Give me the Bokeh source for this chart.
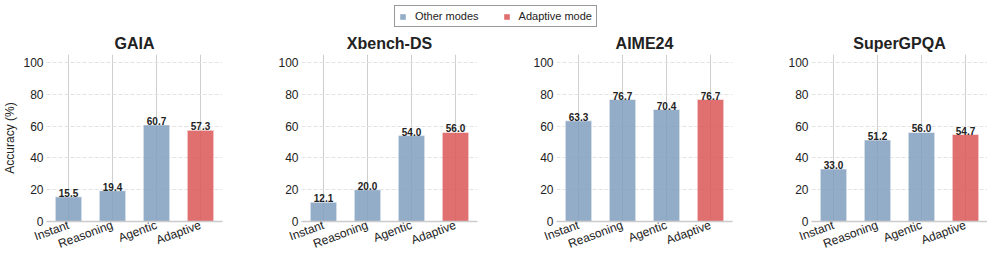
from bokeh.plotting import figure
from bokeh.models import Range1d, FixedTicker, ColumnDataSource, Legend, LegendItem
from bokeh.layouts import column, row
from bokeh.core.properties import value
from bokeh.embed import file_html
from bokeh.resources import INLINE

modes = ["Instant", "Reasoning", "Agentic", "Adaptive"]
benchmarks = ["GAIA", "Xbench-DS", "AIME24", "SuperGPQA"]
gaia = [15.5, 19.4, 60.7, 57.3]
xbench = [12.1, 20.0, 54.0, 56.0]
aime24 = [63.3, 76.7, 70.4, 76.7]
supergpqa = [33.0, 51.2, 56.0, 54.7]
y_ticks = [0, 20, 40, 60, 80, 100]
legend_labels = ["Other modes", "Adaptive mode"]

FONT = "Liberation Sans"
BLUE = "#809FBE"
RED = "#DA5656"
ALPHA = 0.85
colors = [BLUE, BLUE, BLUE, RED]

# legend strip
lf = figure(width=980, height=30, x_range=Range1d(0, 1), y_range=Range1d(0, 1),
            x_axis_location=None, y_axis_location=None, min_border=0,
            output_backend="svg", toolbar_location=None)
lf.outline_line_color = None
lf.grid.visible = False
r1 = lf.rect(x=[-5], y=[-5], width=0.1, height=0.1, fill_color=BLUE, fill_alpha=ALPHA, line_color=None)
r2 = lf.rect(x=[-5], y=[-5], width=0.1, height=0.1, fill_color=RED, fill_alpha=ALPHA, line_color=None)
leg = Legend(items=[LegendItem(label=legend_labels[0], renderers=[r1]),
                    LegendItem(label=legend_labels[1], renderers=[r2])],
             orientation="horizontal", location=(394, 3),
             border_line_color="#333333", border_line_width=1,
             label_text_font_size="11px", label_text_font=FONT, label_text_color="#222222",
             padding=4, spacing=24, margin=0, label_standoff=9,
             glyph_width=7, glyph_height=7, label_height=11,
             background_fill_alpha=1.0)
lf.add_layout(leg, "center")

panels = []
all_vals = [gaia, xbench, aime24, supergpqa]
for i, (name, vals) in enumerate(zip(benchmarks, all_vals)):
    first = i == 0
    last = i == 3
    p = figure(x_range=modes, y_range=Range1d(0, 105), frame_width=176, frame_height=167,
               min_border_left=38 if first else 48, min_border_right=0 if last else 31,
               min_border_top=16, min_border_bottom=42, title=name,
               output_backend="svg", toolbar_location=None)
    p.outline_line_color = None
    p.title.text_font = FONT
    p.title.text_font_size = "16px"
    p.title.text_font_style = "bold"
    p.title.text_color = "#222222"
    p.title.align = "center"
    p.title.standoff = 5

    src = ColumnDataSource(dict(mode=modes, val=vals, color=colors,
                                label=["%.1f" % v for v in vals]))
    p.vbar(x="mode", top="val", width=0.6, source=src, fill_color="color",
           fill_alpha=ALPHA, line_color="white", line_alpha=0.5, line_width=1)
    p.text(x="mode", y="val", text="label", source=src, text_align="center",
           text_baseline="alphabetic", y_offset=-4, text_font=value(FONT),
           text_font_size=value("10px"), text_font_style="bold", text_color="#222222")

    ya = p.yaxis[0]
    ya.ticker = FixedTicker(ticks=y_ticks)
    ya.axis_line_color = None
    ya.major_tick_line_color = None
    ya.minor_tick_line_color = None
    ya.major_tick_out = 0
    ya.major_tick_in = 0
    ya.minor_tick_out = 0
    ya.minor_tick_in = 0
    ya.major_label_text_font = FONT
    ya.major_label_text_font_size = "12px"
    ya.major_label_text_color = "#222222"
    ya.major_label_standoff = 3
    if first:
        ya.axis_label = "Accuracy (%)"
        ya.axis_label_text_font = FONT
        ya.axis_label_text_font_size = "12px"
        ya.axis_label_text_font_style = "normal"
        ya.axis_label_text_color = "#222222"
        ya.axis_label_standoff = 3

    xa = p.xaxis[0]
    xa.axis_line_color = "#cccccc"
    xa.axis_line_width = 1.5
    xa.major_tick_line_color = None
    xa.minor_tick_line_color = None
    xa.major_tick_out = 0
    xa.major_tick_in = 0
    xa.minor_tick_out = 0
    xa.minor_tick_in = 0
    xa.major_label_orientation = 0.35
    xa.major_label_text_font = FONT
    xa.major_label_text_font_size = "12px"
    xa.major_label_text_color = "#222222"
    xa.major_label_standoff = 3

    p.ygrid.grid_line_color = "#e3e3e3"
    p.ygrid.grid_line_dash = "4 2"
    p.ygrid.ticker = FixedTicker(ticks=y_ticks)
    p.xgrid.grid_line_color = "#cfcfcf"
    p.xgrid.grid_line_width = 1
    panels.append(p)

layout = column(lf, row(*panels))
open("out.html", "w").write(file_html(layout, INLINE))
